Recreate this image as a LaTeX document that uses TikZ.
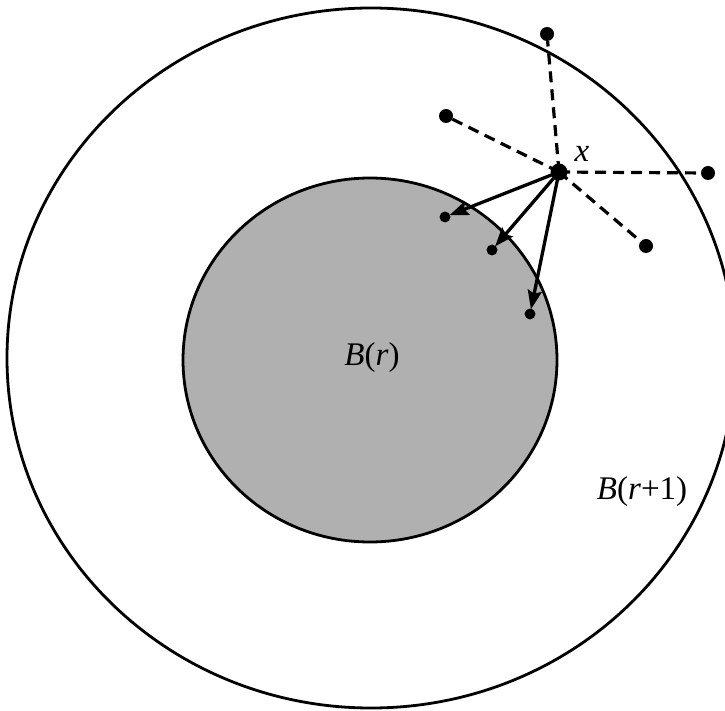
\documentclass[tikz,border=0pt]{standalone}
\usepackage{fontspec}
\setmainfont{Liberation Serif}
\usetikzlibrary{arrows.meta}
\begin{document}
\begin{tikzpicture}[x=1pt,y=-1pt,
  dot/.style={circle,fill=black,inner sep=0pt,minimum size=11pt},
  bigdot/.style={circle,fill=black,inner sep=0pt,minimum size=14pt},
  hub/.style={circle,fill=black,inner sep=0pt,minimum size=17pt},
  dashline/.style={line width=3.2pt,dash pattern=on 11pt off 7pt},
  arrowline/.style={line width=3.3pt,-{Stealth[length=19pt,width=14pt,inset=3pt]},shorten >=-1pt},
  lbl/.style={font=\fontsize{33}{40}\selectfont,inner sep=0pt}]
\useasboundingbox (0,0) rectangle (725,711);
% outer ball
\draw[line width=2.8pt] (371,358) ellipse [x radius=364, y radius=350];
% inner ball
\draw[line width=2.8pt,fill=gray!62] (370,360) ellipse [x radius=187, y radius=182];
% nodes
\node[hub] (x) at (559,172) {};
\node[bigdot] (d1) at (547,34) {};
\node[bigdot] (d2) at (446,116) {};
\node[bigdot] (d3) at (708,173) {};
\node[bigdot] (d4) at (646,246) {};
\node[dot] (a1) at (445,217) {};
\node[dot] (a2) at (492,250) {};
\node[dot] (a3) at (530,314) {};
% dashed edges
\draw[dashline] (x.center) -- (d1);
\draw[dashline] (x.center) -- (d2);
\draw[dashline] (x.center) -- (d3);
\draw[dashline] (x.center) -- (d4);
% arrows
\draw[arrowline] (x.center) -- (a1);
\draw[arrowline] (x.center) -- (a2);
\draw[arrowline] (x.center) -- (a3);
% labels
\node[lbl] (lx) at (582,154) {\textit{x}};
\node[lbl] (lbr) at (372,358) {\textit{B}(\textit{r})};
\node[lbl] (lbr1) at (642,492) {\textit{B}(\textit{r}+1)};
\end{tikzpicture}
\end{document}
